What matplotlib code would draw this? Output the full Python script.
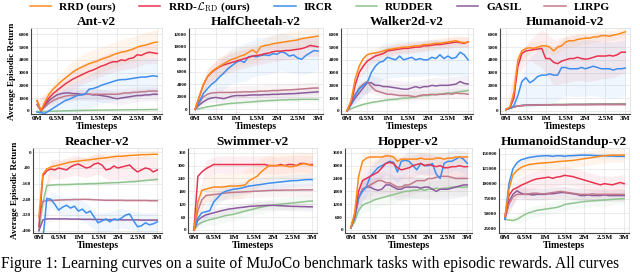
import numpy as np
import matplotlib
matplotlib.use("Agg")
import matplotlib.pyplot as plt

# ---------------- data ----------------
timesteps_m = [round(0.1 * i, 1) for i in range(31)]          # millions
band_steps_m = [round(0.3 * i, 1) for i in range(11)]          # millions
methods = ["RRD (ours)", r"RRD-$\mathcal{L}_{\rm RD}$ (ours)", "IRCR", "RUDDER", "GASIL", "LIRPG"]
colors = ["#ff8a1c", "#e8334f", "#3d8ef0", "#8fc48f", "#8b5b9c", "#c27b8c"]
envs = ["Ant-v2", "HalfCheetah-v2", "Walker2d-v2", "Humanoid-v2",
        "Reacher-v2", "Swimmer-v2", "Hopper-v2", "HumanoidStandup-v2"]
xtick_vals = [0, 0.5, 1, 1.5, 2, 2.5, 3]
xtick_labels = ["0M", "0.5M", "1M", "1.5M", "2M", "2.5M", "3M"]

# Ant-v2
ant_rrd = [800, 50, 700, 1300, 1700, 2000, 2300, 2550, 2800, 3050, 3250, 3400, 3550, 3700, 3800, 3900, 4050, 4150, 4250, 4400, 4500, 4600, 4650, 4750, 4850, 5000, 5100, 5150, 5250, 5350, 5400]
ant_rrdl = [800, 0, 550, 1000, 1350, 1600, 1850, 2100, 2300, 2500, 2650, 2800, 2950, 3100, 3200, 3350, 3500, 3600, 3750, 3850, 3850, 4000, 3950, 4100, 4150, 4400, 4350, 4500, 4600, 4550, 4500]
ant_ircr = [-100, -150, -200, 0, 200, 400, 600, 800, 900, 1050, 1200, 1250, 1300, 1700, 1750, 1850, 2000, 2100, 2200, 2300, 2400, 2450, 2450, 2500, 2550, 2600, 2650, 2650, 2700, 2750, 2700]
ant_rudder = [-50, -60, -50, -40, -30, -20, -10, 0, 10, 20, 30, 30, 40, 40, 50, 50, 60, 60, 60, 70, 70, 70, 80, 80, 80, 90, 90, 90, 100, 100, 100]
ant_gasil = [500, 0, 400, 800, 1050, 1250, 1350, 1400, 1400, 1350, 1350, 1300, 1300, 1300, 1250, 1250, 1200, 1150, 1100, 1000, 950, 1000, 1050, 1100, 1150, 1200, 1200, 1250, 1250, 1300, 1300]
ant_lirpg = [500, 0, 300, 600, 800, 950, 1050, 1150, 1200, 1200, 1250, 1250, 1300, 1300, 1300, 1300, 1300, 1300, 1300, 1300, 1300, 1350, 1400, 1400, 1450, 1450, 1500, 1500, 1550, 1550, 1550]
ant_band = [[0, 400, 700, 900, 1000, 1000, 1000, 1000, 1000, 1000, 1000],
            [0, 400, 600, 800, 800, 800, 800, 800, 800, 800, 800],
            [0, 500, 900, 1200, 1300, 1400, 1500, 1500, 1500, 1500, 1500],
            [0, 50, 50, 50, 50, 50, 50, 50, 50, 50, 50],
            [0, 300, 400, 500, 500, 500, 500, 500, 500, 500, 500],
            [0, 300, 400, 400, 400, 400, 400, 400, 400, 400, 400]]

# HalfCheetah-v2
hc_rrd = [0, 2000, 4000, 5200, 6000, 6500, 6900, 7300, 7700, 8000, 8200, 8500, 8700, 9100, 9500, 9000, 10000, 10200, 10300, 10500, 10600, 10700, 10800, 10900, 11000, 11100, 11300, 11400, 11500, 11600, 11700]
hc_rrdl = [0, 2000, 3900, 5200, 5900, 6400, 6800, 7100, 7300, 7500, 7700, 7900, 8100, 8300, 8500, 8600, 8700, 8900, 9000, 9200, 9300, 9300, 9400, 9400, 9500, 9600, 9700, 9900, 10200, 10100, 10000]
hc_ircr = [0, 1200, 2500, 3300, 4000, 4500, 5200, 5800, 6500, 7000, 7500, 7800, 7500, 8400, 8500, 8400, 8600, 8700, 8600, 8900, 8800, 9200, 9000, 8500, 8700, 8200, 8000, 8600, 9000, 9400, 9300]
hc_rudder = [0, 100, 250, 400, 500, 600, 700, 800, 900, 950, 1000, 1050, 1100, 1150, 1200, 1250, 1300, 1350, 1400, 1400, 1450, 1500, 1500, 1550, 1550, 1550, 1600, 1600, 1600, 1600, 1600]
hc_gasil = [0, 700, 1200, 1600, 1800, 1900, 1800, 1700, 1900, 2100, 2200, 2200, 2200, 2250, 2300, 2300, 2300, 2350, 2350, 2400, 2400, 2450, 2450, 2500, 2500, 2550, 2600, 2650, 2700, 2750, 2800]
hc_lirpg = [0, 1000, 2000, 2400, 2600, 2650, 2700, 2700, 2700, 2700, 2750, 2750, 2800, 2800, 2800, 2850, 2900, 2900, 2950, 3000, 3000, 3050, 3100, 3100, 3150, 3200, 3250, 3300, 3350, 3400, 3400]
hc_band = [[0, 1200, 1500, 1500, 1500, 1500, 1500, 1500, 1500, 1500, 1400],
           [0, 1200, 1500, 1500, 1500, 1500, 1500, 1500, 1500, 1500, 1500],
           [0, 1500, 2500, 2800, 3000, 3000, 3000, 3000, 3000, 3000, 3000],
           [0, 200, 300, 300, 300, 300, 300, 300, 300, 300, 300],
           [0, 500, 800, 800, 800, 800, 800, 800, 800, 800, 800],
           [0, 600, 1000, 1000, 1000, 1000, 1000, 1000, 1000, 1000, 1000]]

# Walker2d-v2
wk_rrd = [0, 800, 2500, 3500, 4100, 4400, 4500, 4550, 4600, 4700, 4800, 4850, 4900, 4950, 5000, 5000, 5050, 5100, 5100, 5200, 5200, 5250, 5300, 5300, 5350, 5400, 5450, 5500, 5400, 5350, 5400]
wk_rrdl = [0, 600, 2000, 3000, 3500, 3900, 4100, 4300, 4400, 4500, 4700, 4750, 4800, 4850, 4900, 4900, 4950, 5000, 5000, 5100, 5100, 5150, 5200, 5200, 5250, 5300, 5350, 5400, 5350, 5300, 5400]
wk_ircr = [0, 500, 1200, 1700, 2000, 2200, 3000, 3500, 3800, 3900, 4200, 4100, 4000, 4300, 4000, 4100, 4200, 4000, 4100, 4000, 4000, 4200, 4100, 4400, 4100, 4300, 4100, 4200, 4600, 4400, 4000]
wk_rudder = [0, 150, 300, 400, 500, 580, 650, 700, 750, 800, 850, 880, 900, 950, 1000, 1000, 1050, 1100, 1150, 1200, 1200, 1250, 1300, 1300, 1350, 1400, 1400, 1450, 1500, 1550, 1600]
wk_gasil = [0, 500, 1000, 1400, 1800, 2200, 2200, 2000, 2000, 1900, 1900, 1850, 1800, 1750, 1700, 1700, 1800, 1900, 1800, 1900, 1900, 2000, 1950, 2000, 2000, 2000, 2050, 2100, 2300, 2150, 2100]
wk_lirpg = [0, 700, 1300, 1800, 2100, 2300, 1900, 1600, 1500, 1400, 1300, 1300, 1250, 1200, 1200, 1200, 1150, 1100, 1200, 1250, 1250, 1300, 1250, 1300, 1300, 1350, 1300, 1400, 1350, 1350, 1300]
wk_band = [[0, 400, 400, 400, 400, 400, 400, 400, 400, 400, 400],
           [0, 500, 400, 400, 400, 400, 400, 400, 400, 400, 400],
           [0, 800, 1300, 1400, 1400, 1400, 1400, 1400, 1400, 1400, 1400],
           [0, 150, 150, 150, 150, 150, 150, 150, 150, 150, 150],
           [0, 500, 600, 600, 600, 600, 600, 600, 600, 600, 600],
           [0, 500, 500, 400, 400, 400, 400, 400, 400, 400, 400]]

# Humanoid-v2
hu_rrd = [100, 300, 1500, 4000, 4700, 4900, 4950, 4900, 5000, 5100, 5100, 5000, 4700, 5000, 5100, 5400, 5500, 5500, 5600, 5650, 5700, 5700, 5800, 5800, 5900, 5900, 5850, 5950, 6000, 6100, 6200]
hu_rrdl = [100, 250, 1000, 3500, 4500, 4700, 4750, 4800, 4850, 4900, 4100, 4100, 3800, 3700, 3900, 4000, 4100, 4100, 4200, 4100, 4050, 4100, 4200, 4300, 4300, 4300, 4350, 4300, 4400, 4600, 4600]
hu_ircr = [100, 200, 400, 1200, 2300, 2600, 2200, 2400, 2700, 2800, 2800, 2900, 2800, 2800, 3400, 3400, 3300, 3300, 3300, 3400, 3300, 3400, 3500, 3400, 3300, 3300, 3300, 3200, 3300, 3300, 3350]
hu_rudder = [100, 200, 300, 380, 420, 450, 460, 470, 480, 480, 490, 490, 500, 500, 500, 510, 510, 520, 520, 520, 530, 530, 530, 540, 540, 540, 550, 550, 550, 560, 560]
hu_gasil = [100, 200, 320, 380, 420, 440, 450, 460, 460, 470, 470, 470, 480, 480, 480, 480, 490, 490, 490, 490, 490, 500, 500, 500, 500, 500, 500, 500, 500, 500, 500]
hu_lirpg = [100, 200, 300, 370, 410, 430, 440, 450, 460, 460, 470, 470, 470, 480, 480, 480, 480, 490, 490, 490, 490, 490, 490, 500, 500, 500, 500, 500, 500, 500, 500]
hu_band = [[0, 500, 400, 400, 400, 500, 500, 400, 400, 400, 400],
           [0, 600, 800, 1500, 1800, 1800, 1800, 1800, 1800, 1700, 1600],
           [0, 800, 2000, 2200, 2200, 2200, 2200, 2200, 2200, 2200, 2200],
           [0, 50, 60, 60, 60, 60, 60, 60, 60, 60, 60],
           [0, 40, 40, 40, 40, 40, 40, 40, 40, 40, 40],
           [0, 40, 40, 40, 40, 40, 40, 40, 40, 40, 40]]

# Reacher-v2
re_rrd = [-330, -110, -85, -75, -70, -65, -60, -55, -50, -47, -45, -42, -40, -38, -35, -32, -30, -28, -25, -22, -20, -20, -18, -16, -15, -14, -12, -12, -11, -10, -10]
re_rrdl = [-380, -120, -95, -85, -90, -80, -85, -90, -75, -65, -60, -70, -80, -75, -60, -55, -65, -90, -85, -70, -80, -75, -70, -65, -85, -100, -90, -80, -85, -100, -90]
re_ircr = [-460, -450, -235, -240, -265, -295, -280, -270, -285, -275, -300, -290, -310, -300, -330, -360, -350, -340, -355, -340, -345, -335, -320, -315, -350, -380, -375, -360, -370, -365, -355]
re_rudder = [-400, -260, -170, -168, -166, -165, -165, -165, -164, -163, -162, -162, -161, -160, -160, -159, -158, -157, -156, -155, -155, -153, -152, -150, -150, -148, -146, -144, -142, -140, -138]
re_gasil = [-400, -345, -340, -340, -340, -340, -340, -340, -341, -341, -341, -342, -342, -342, -343, -343, -343, -344, -344, -344, -344, -345, -345, -345, -345, -345, -346, -346, -346, -346, -346]
re_lirpg = [-330, -250, -247, -246, -245, -244, -243, -242, -242, -241, -241, -240, -240, -241, -242, -243, -244, -245, -245, -245, -245, -245, -246, -246, -246, -246, -246, -246, -247, -247, -247]
re_band = [[0, 25, 20, 20, 20, 20, 20, 20, 20, 20, 20],
           [0, 50, 50, 50, 50, 55, 60, 60, 60, 60, 60],
           [0, 40, 50, 50, 50, 50, 50, 50, 50, 50, 50],
           [0, 10, 10, 10, 10, 10, 10, 10, 10, 10, 10],
           [0, 5, 5, 5, 5, 5, 5, 5, 5, 5, 5],
           [0, 6, 6, 6, 6, 6, 6, 6, 6, 6, 6]]

# Swimmer-v2
sw_rrd = [0, 130, 185, 190, 195, 200, 200, 200, 202, 205, 205, 205, 207, 210, 230, 240, 250, 270, 285, 300, 300, 300, 300, 300, 295, 295, 300, 305, 310, 305, 300]
sw_rrdl = [0, 250, 270, 285, 295, 305, 305, 305, 305, 305, 305, 305, 305, 305, 305, 305, 305, 305, 305, 300, 300, 300, 305, 300, 305, 305, 300, 310, 310, 305, 305]
sw_ircr = [0, 55, 80, 85, 90, 130, 150, 170, 180, 185, 190, 192, 195, 200, 205, 207, 210, 212, 215, 218, 220, 222, 224, 226, 228, 230, 230, 232, 234, 235, 235]
sw_rudder = [0, 25, 35, 42, 48, 52, 57, 62, 67, 70, 73, 78, 83, 88, 93, 97, 102, 106, 110, 113, 115, 118, 120, 122, 124, 126, 128, 130, 132, 134, 135]
sw_gasil = [0, 45, 60, 70, 75, 80, 85, 90, 94, 98, 100, 103, 105, 107, 110, 111, 112, 113, 114, 115, 115, 114, 113, 112, 111, 110, 110, 109, 109, 108, 108]
sw_lirpg = [0, 90, 140, 160, 163, 165, 167, 170, 172, 174, 175, 176, 177, 178, 179, 180, 181, 182, 183, 184, 185, 185, 185, 186, 186, 186, 186, 187, 187, 187, 187]
sw_band = [[0, 60, 60, 60, 60, 60, 60, 60, 60, 60, 60],
           [0, 40, 40, 40, 40, 40, 40, 40, 40, 40, 40],
           [0, 30, 30, 30, 30, 30, 30, 30, 30, 30, 30],
           [0, 25, 30, 30, 30, 30, 30, 30, 30, 30, 30],
           [0, 20, 20, 20, 20, 20, 20, 20, 20, 20, 20],
           [0, 30, 30, 30, 30, 30, 30, 30, 30, 30, 30]]

# Hopper-v2
ho_rrd = [100, 800, 2500, 3200, 3350, 3400, 3400, 3400, 3400, 3450, 3450, 3400, 3200, 3300, 3300, 3300, 3300, 3300, 3350, 3300, 3300, 3300, 3350, 3350, 3300, 3350, 3350, 3400, 3400, 3400, 3400]
ho_rrdl = [100, 700, 1800, 2300, 2400, 2500, 2600, 2700, 2900, 3100, 3150, 3100, 2900, 2800, 2850, 2900, 3000, 3050, 3100, 3000, 3050, 3000, 2950, 3000, 2900, 2900, 2950, 2950, 3000, 2950, 2950]
ho_ircr = [100, 600, 1500, 1800, 2000, 2500, 2700, 2900, 3000, 3100, 3200, 3150, 2700, 3200, 3250, 3200, 3000, 2800, 3100, 3000, 3000, 3100, 2600, 2400, 3100, 3200, 3200, 3300, 3400, 3300, 3100]
ho_rudder = [100, 400, 900, 1150, 1250, 1300, 1400, 1450, 1500, 1550, 1600, 1650, 1700, 1750, 1800, 1800, 1850, 1850, 1900, 1850, 1900, 1900, 1950, 1900, 1950, 1950, 2000, 2000, 2000, 2000, 2000]
ho_gasil = [100, 600, 1500, 1900, 2000, 2000, 1900, 1850, 1900, 2100, 2100, 2000, 1900, 1900, 2000, 2000, 2000, 2000, 1950, 2000, 2000, 1900, 1800, 1900, 1900, 1900, 1950, 2000, 2050, 2100, 2100]
ho_lirpg = [100, 600, 1500, 1900, 2000, 2100, 2200, 2300, 2300, 2200, 2200, 2100, 2000, 2000, 2100, 2100, 2200, 2300, 2300, 2300, 2400, 2400, 2450, 2500, 2500, 2500, 2450, 2400, 2400, 2400, 2400]
ho_band = [[0, 400, 300, 300, 300, 300, 300, 300, 300, 300, 300],
           [0, 500, 500, 500, 500, 500, 500, 500, 500, 500, 500],
           [0, 500, 500, 500, 500, 500, 500, 500, 500, 500, 500],
           [0, 400, 400, 400, 400, 400, 400, 400, 400, 400, 400],
           [0, 500, 500, 500, 500, 500, 500, 500, 500, 500, 500],
           [0, 500, 500, 500, 500, 500, 500, 500, 500, 500, 500]]

# HumanoidStandup-v2
hs_rrd = [45000, 90000, 115000, 122000, 127000, 130000, 132000, 133000, 134000, 134500, 135000, 135500, 136000, 137000, 137500, 138000, 138500, 139000, 140000, 141000, 142000, 143000, 144000, 145000, 146000, 147000, 147500, 148000, 148000, 148000, 148000]
hs_rrdl = [45000, 80000, 90000, 93000, 97000, 100000, 103000, 106000, 108000, 109000, 110000, 111000, 109000, 111000, 112000, 114000, 113000, 112000, 110000, 108000, 106000, 104000, 102000, 100000, 98000, 100000, 99000, 98000, 100000, 102000, 100000]
hs_ircr = [40000, 100000, 125000, 135000, 140000, 142000, 144000, 145000, 146000, 146500, 147000, 147000, 146000, 147000, 147000, 146000, 147000, 147000, 147500, 148000, 148000, 148000, 147500, 147000, 147000, 147000, 146500, 146500, 146000, 146000, 146000]
hs_rudder = [40000, 39000, 38000, 40000, 44000, 48000, 51000, 53000, 55000, 56000, 57000, 58000, 59000, 60000, 62000, 65000, 66000, 67000, 68000, 69000, 70000, 70500, 71000, 71500, 72000, 72500, 73000, 73500, 74000, 74500, 75000]
hs_gasil = [40000, 70000, 82000, 88000, 84000, 82000, 82000, 81000, 82000, 82000, 82000, 83000, 83000, 84000, 85000, 85000, 84000, 83000, 82000, 80000, 80000, 81000, 80000, 80000, 80000, 81000, 80000, 80000, 80000, 80000, 80000]
hs_lirpg = [40000, 65000, 78000, 82000, 82000, 82000, 83000, 84000, 84000, 83000, 83000, 84000, 85000, 86000, 87000, 86000, 85000, 84000, 83000, 82000, 82000, 82000, 83000, 82000, 82000, 82000, 82000, 82000, 82000, 82000, 82000]
hs_band = [[0, 12000, 12000, 12000, 12000, 12000, 12000, 12000, 12000, 12000, 12000],
           [0, 15000, 15000, 15000, 15000, 15000, 15000, 15000, 15000, 15000, 15000],
           [0, 6000, 5000, 5000, 5000, 5000, 5000, 5000, 5000, 5000, 5000],
           [0, 8000, 10000, 10000, 10000, 10000, 10000, 10000, 10000, 10000, 10000],
           [0, 10000, 10000, 10000, 10000, 10000, 10000, 10000, 10000, 10000, 10000],
           [0, 10000, 10000, 10000, 10000, 10000, 10000, 10000, 10000, 10000, 10000]]

ant_yticks = [0, 1000, 2000, 3000, 4000, 5000, 6000]
hc_yticks = [0, 2000, 4000, 6000, 8000, 10000, 12000]
re_yticks = [0, -80, -160, -240, -320, -400]
sw_yticks = [0, 60, 120, 180, 240, 300, 360]
ho_yticks = [0, 600, 1200, 1800, 2400, 3000, 3600]
hs_yticks = [25000, 50000, 75000, 100000, 125000, 150000]

# ---------------- layout ----------------
plt.rcParams["font.family"] = ["Liberation Serif", "DejaVu Serif"]
plt.rcParams["font.weight"] = "bold"
plt.rcParams["mathtext.fontset"] = "cm"

W, H = 640, 273
fig = plt.figure(figsize=(W / 100, H / 100), dpi=100)

# axes boxes in pixels: (left, top, right, bottom)
boxes = [(31, 28, 162, 114), (189, 28, 323, 114), (341, 28, 473, 114), (500, 28, 630, 114),
         (33, 148, 162, 233), (188, 148, 317, 233), (345, 148, 472, 233), (499, 148, 629, 233)]
all_series = [
    [ant_rrd, ant_rrdl, ant_ircr, ant_rudder, ant_gasil, ant_lirpg],
    [hc_rrd, hc_rrdl, hc_ircr, hc_rudder, hc_gasil, hc_lirpg],
    [wk_rrd, wk_rrdl, wk_ircr, wk_rudder, wk_gasil, wk_lirpg],
    [hu_rrd, hu_rrdl, hu_ircr, hu_rudder, hu_gasil, hu_lirpg],
    [re_rrd, re_rrdl, re_ircr, re_rudder, re_gasil, re_lirpg],
    [sw_rrd, sw_rrdl, sw_ircr, sw_rudder, sw_gasil, sw_lirpg],
    [ho_rrd, ho_rrdl, ho_ircr, ho_rudder, ho_gasil, ho_lirpg],
    [hs_rrd, hs_rrdl, hs_ircr, hs_rudder, hs_gasil, hs_lirpg],
]
all_bands = [ant_band, hc_band, wk_band, hu_band, re_band, sw_band, ho_band, hs_band]
all_yticks = [ant_yticks, hc_yticks, ant_yticks, ant_yticks, re_yticks, sw_yticks, ho_yticks, hs_yticks]
ylims = [(-250, 6500), (-750, 13000), (-250, 6500), (-250, 6500),
         (-412, 22), (-14, 382), (-140, 3820), (17000, 160000)]
# draw order (back to front): RUDDER, GASIL, LIRPG, IRCR, RRD-L, RRD
order = [3, 4, 5, 2, 1, 0]

x = np.array(timesteps_m)
xb = np.array(band_steps_m)
handles = [None] * 6
for k, (l, t, r, b) in enumerate(boxes):
    ax = fig.add_axes([l / W, 1 - b / H, (r - l) / W, (b - t) / H])
    ax.set_facecolor("white")
    ax.grid(True, color="#e8e8e8", lw=0.6)
    ax.set_axisbelow(True)
    for i in order:
        y = np.array(all_series[k][i], dtype=float)
        sd = np.array(all_bands[k][i], dtype=float)
        yb = y[::3]
        ax.fill_between(xb, yb - sd, yb + sd, color=colors[i], alpha=0.08, lw=0)
        h, = ax.plot(x, y, color=colors[i], lw=1.1, label=methods[i])
        handles[i] = h
    ax.set_xlim(-0.15, 3.12)
    ax.set_ylim(*ylims[k])
    ax.set_xticks(xtick_vals)
    ax.set_xticklabels(xtick_labels, fontsize=5.3, fontweight="bold")
    ax.set_yticks(all_yticks[k])
    ax.set_yticklabels([str(v) for v in all_yticks[k]], fontsize=3.6, fontweight="bold")
    ax.tick_params(axis="both", length=0, pad=1.5)
    for s in ["left", "bottom"]:
        ax.spines[s].set_color("#444444")
        ax.spines[s].set_linewidth(0.8)
    for s in ["top", "right"]:
        ax.spines[s].set_color("#e0e0e0")
        ax.spines[s].set_linewidth(0.6)
    ax.set_title(envs[k], fontsize=9.5, fontweight="bold", pad=2.0)
    ax.set_xlabel("Timesteps", fontsize=7, fontweight="bold", labelpad=0.5)
    if k in (0, 4):
        ax.set_ylabel("Average Episodic Return", fontsize=6.6, fontweight="bold", labelpad=2)

fig.legend(handles, methods, loc="center", bbox_to_anchor=(0.5, 1 - 7.5 / H), ncol=6,
           frameon=False, prop={"size": 8.2, "weight": "bold"}, handlelength=1.9,
           columnspacing=2.0, handletextpad=0.7, borderaxespad=0, borderpad=0)

fig.text(0.002, 1 - 264 / H,
         "Figure 1: Learning curves on a suite of MuJoCo benchmark tasks with episodic rewards. All curves",
         fontsize=11.2, fontweight="normal", ha="left", va="center")

fig.savefig("out.png", dpi=100, facecolor="white")
